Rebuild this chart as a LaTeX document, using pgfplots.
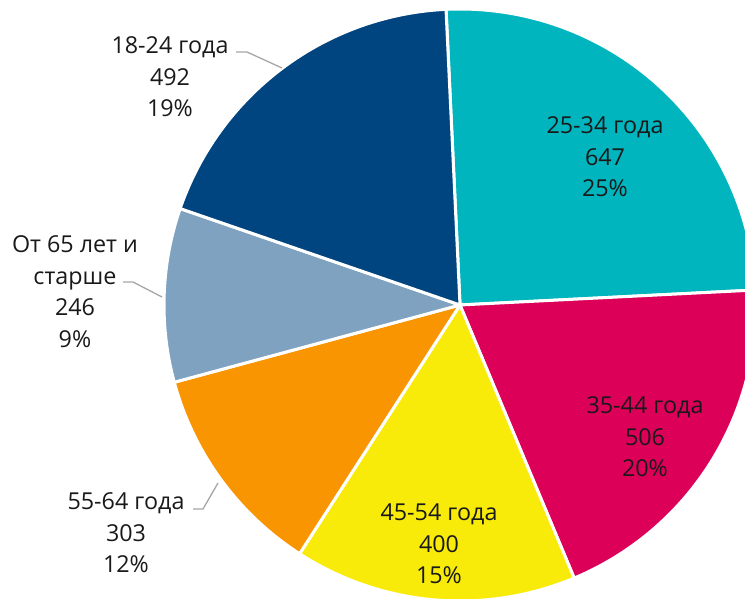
\documentclass[border=0pt]{standalone}
\usepackage{pgfplots}
\usepackage{pgfplotstable}
\pgfplotsset{compat=1.18}
\usepackage{fontspec}
\setmainfont{Open Sans}
\definecolor{cTeal}{HTML}{00B5BE}
\definecolor{cMag}{HTML}{DC0059}
\definecolor{cYel}{HTML}{F8EB0A}
\definecolor{cOra}{HTML}{F99500}
\definecolor{cGray}{HTML}{7FA2C1}
\definecolor{cBlue}{HTML}{004480}
\definecolor{cLead}{HTML}{A6A6A6}
\pgfplotstableread{
value
647
506
400
303
246
492
}\piedata
\begin{document}
\begin{tikzpicture}
\pgfplotstablegetelem{0}{value}\of\piedata \let\vA\pgfplotsretval
\pgfplotstablegetelem{1}{value}\of\piedata \let\vB\pgfplotsretval
\pgfplotstablegetelem{2}{value}\of\piedata \let\vC\pgfplotsretval
\pgfplotstablegetelem{3}{value}\of\piedata \let\vD\pgfplotsretval
\pgfplotstablegetelem{4}{value}\of\piedata \let\vE\pgfplotsretval
\pgfplotstablegetelem{5}{value}\of\piedata \let\vF\pgfplotsretval
\pgfmathsetmacro\tot{\vA+\vB+\vC+\vD+\vE+\vF}
\pgfmathsetmacro\aA{92.7}
\pgfmathsetmacro\aB{\aA-360*(\vA/\tot)}
\pgfmathsetmacro\aC{\aB-360*(\vB/\tot)}
\pgfmathsetmacro\aD{\aC-360*(\vC/\tot)}
\pgfmathsetmacro\aE{\aD-360*(\vD/\tot)}
\pgfmathsetmacro\aF{\aE-360*(\vE/\tot)}
\pgfmathsetmacro\aG{\aF-360*(\vF/\tot)}
\begin{axis}[name=ax,width=745pt,height=598pt,scale only axis,
  xmin=0,xmax=745,ymin=0,ymax=598,hide axis,clip=true]
\addplot[fill=cTeal,draw=white,line width=3pt,domain=\aB:\aA,samples=90]
  ({460+296*cos(x)},{293+296*sin(x)}) -- (axis cs:460,293) -- cycle;
\addplot[fill=cMag,draw=white,line width=3pt,domain=\aC:\aB,samples=90]
  ({460+296*cos(x)},{293+296*sin(x)}) -- (axis cs:460,293) -- cycle;
\addplot[fill=cYel,draw=white,line width=3pt,domain=\aD:\aC,samples=90]
  ({460+296*cos(x)},{293+296*sin(x)}) -- (axis cs:460,293) -- cycle;
\addplot[fill=cOra,draw=white,line width=3pt,domain=\aE:\aD,samples=90]
  ({460+296*cos(x)},{293+296*sin(x)}) -- (axis cs:460,293) -- cycle;
\addplot[fill=cGray,draw=white,line width=3pt,domain=\aF:\aE,samples=90]
  ({460+296*cos(x)},{293+296*sin(x)}) -- (axis cs:460,293) -- cycle;
\addplot[fill=cBlue,draw=white,line width=3pt,domain=\aG:\aF,samples=90]
  ({460+296*cos(x)},{293+296*sin(x)}) -- (axis cs:460,293) -- cycle;
% leader lines
\addplot[cLead,line width=1.3pt] coordinates {(236,546) (247,546) (282,530)};
\addplot[cLead,line width=1.3pt] coordinates {(123,316) (133,316) (162,301)};
\addplot[cLead,line width=1.3pt] coordinates {(193,89) (203,89) (218,115)};
% labels
\tikzset{lbl/.style={align=center,text=black!90,inner sep=0pt,font=\fontsize{23.3}{31.5}\selectfont}}
\node[lbl] at (axis cs:605,441) {25-34 года\\647\\25\%};
\node[lbl] at (axis cs:645,161) {35-44 года\\506\\20\%};
\node[lbl] at (axis cs:439,54) {45-54 года\\400\\15\%};
\node[lbl] at (axis cs:126,65) {55-64 года\\303\\12\%};
\node[lbl] at (axis cs:75,306.5) {От 65 лет и\\старше\\246\\9\%};
\node[lbl] at (axis cs:170,521) {18-24 года\\492\\19\%};
\end{axis}
\pgfresetboundingbox
\path[use as bounding box] (ax.south west) rectangle (ax.north east);
\end{tikzpicture}
\end{document}
